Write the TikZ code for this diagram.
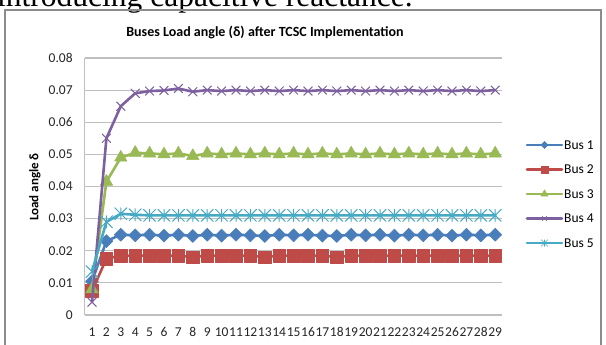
\documentclass[tikz,border=0pt]{standalone}
\usepackage{fontspec}
\setmainfont{Carlito}
\newfontfamily\bodyfont{Liberation Serif}
\usetikzlibrary{plotmarks}

\definecolor{busone}{HTML}{4A7EBB}
\definecolor{bustwo}{HTML}{BE4B48}
\definecolor{busthree}{HTML}{98B954}
\definecolor{busfour}{HTML}{7D60A0}
\definecolor{busfive}{HTML}{46AAC5}
\definecolor{gridgray}{HTML}{BFBFBF}
\definecolor{framegray}{HTML}{8C8C8C}

\pgfdeclareplotmark{busdiamond}{%
  \pgfpathmoveto{\pgfqpoint{0pt}{\pgfplotmarksize}}%
  \pgfpathlineto{\pgfqpoint{\pgfplotmarksize}{0pt}}%
  \pgfpathlineto{\pgfqpoint{0pt}{-\pgfplotmarksize}}%
  \pgfpathlineto{\pgfqpoint{-\pgfplotmarksize}{0pt}}%
  \pgfpathclose
  \pgfusepathqfillstroke}
\pgfdeclareplotmark{busstar}{%
  \pgfpathmoveto{\pgfqpoint{-\pgfplotmarksize}{-\pgfplotmarksize}}%
  \pgfpathlineto{\pgfqpoint{\pgfplotmarksize}{\pgfplotmarksize}}%
  \pgfpathmoveto{\pgfqpoint{-\pgfplotmarksize}{\pgfplotmarksize}}%
  \pgfpathlineto{\pgfqpoint{\pgfplotmarksize}{-\pgfplotmarksize}}%
  \pgfpathmoveto{\pgfqpoint{0pt}{-\pgfplotmarksize}}%
  \pgfpathlineto{\pgfqpoint{0pt}{\pgfplotmarksize}}%
  \pgfusepathqstroke}

\tikzstyle{gridline} = [draw=gridgray, line width=1.2pt]
\tikzstyle{series} = [line width=2.6pt, line join=round, line cap=round]
\tikzstyle{ticklabel} = [inner sep=0pt, font=\fontsize{13.5}{15}\selectfont, text=black!85]
\tikzstyle{legendtext} = [inner sep=0pt, anchor=west, font=\fontsize{13.5}{15}\selectfont]

\begin{document}
\begin{tikzpicture}[x=1pt, y=-1pt]

\useasboundingbox (0,0) rectangle (606,345);
\fill[white] (0,0) rectangle (606,345);

% text above the chart, cut by the page
\node[anchor=base west, inner sep=0pt, font=\bodyfont\fontsize{31.5}{31.5}\selectfont] (bodytext) at (-3,6.5) {introducing capacitive reactance.};

% chart frame and titles
\draw[framegray, line width=1.5pt] (5,10) rectangle (601,360);
\node[font=\bfseries\fontsize{14}{16}\selectfont] (title) at (265,32) {Buses Load angle (δ) after TCSC Implementation};
\node[rotate=90, font=\bfseries\fontsize{13}{15}\selectfont] (ytitle) at (35,187) {Load angle δ};

\begin{scope}[shift={(77.6,315)}, x=14.4pt, y=3212.5pt]
  \foreach \v in {1,...,8}
    \draw[gridline] (0.5,\v/100) -- (29.5,\v/100);
  \draw[gridline] (0.5,0) -- (0.5,0.08);
  \draw[gridline] (0.5,0) -- (29.5,0);
  \foreach \v/\t in {0/0, 1/0.01, 2/0.02, 3/0.03, 4/0.04, 5/0.05, 6/0.06, 7/0.07, 8/0.08}
    \node[ticklabel, anchor=east, xshift=-12pt] (yl\v) at (0.5,\v/100) {\t};
  \foreach \i in {1,...,29}
    \node[ticklabel, yshift=-17pt] (xl\i) at (\i,0) {\i};

  % Bus 1
  \draw[series, busone, mark=busdiamond, mark size=6.5pt, mark options={line width=0.5pt, fill=busone}]
    plot coordinates {(1,0.0105) (2,0.023) (3,0.025) (4,0.0248) (5,0.0250) (6,0.0247) (7,0.0250) (8,0.0246)
      (9,0.0250) (10,0.0247) (11,0.0250) (12,0.0248) (13,0.0246) (14,0.0250) (15,0.0248) (16,0.0250)
      (17,0.0247) (18,0.0246) (19,0.0250) (20,0.0248) (21,0.0250) (22,0.0247) (23,0.0250) (24,0.0248)
      (25,0.0250) (26,0.0247) (27,0.0250) (28,0.0248) (29,0.0250)};
  % Bus 2
  \draw[series, bustwo, mark=square*, mark size=6.3pt, mark options={line width=0.5pt, fill=bustwo}]
    plot coordinates {(1,0.0075) (2,0.0175) (3,0.0185) (4,0.0185) (5,0.0185) (6,0.0185) (7,0.0185) (8,0.0180)
      (9,0.0185) (10,0.0185) (11,0.0185) (12,0.0185) (13,0.0180) (14,0.0185) (15,0.0185) (16,0.0185)
      (17,0.0185) (18,0.0180) (19,0.0185) (20,0.0185) (21,0.0185) (22,0.0185) (23,0.0185) (24,0.0185)
      (25,0.0185) (26,0.0185) (27,0.0185) (28,0.0185) (29,0.0185)};
  % Bus 3
  \draw[series, busthree, mark=triangle*, mark size=7.2pt, mark options={line width=0.5pt, fill=busthree}]
    plot coordinates {(1,0.008) (2,0.0415) (3,0.049) (4,0.0505) (5,0.0503) (6,0.0500) (7,0.0503) (8,0.0495)
      (9,0.0503) (10,0.0500) (11,0.0503) (12,0.0500) (13,0.0503) (14,0.0500) (15,0.0503) (16,0.0500)
      (17,0.0503) (18,0.0500) (19,0.0503) (20,0.0500) (21,0.0503) (22,0.0500) (23,0.0503) (24,0.0500)
      (25,0.0503) (26,0.0500) (27,0.0503) (28,0.0500) (29,0.0503)};
  % Bus 4
  \draw[series, busfour, mark=x, mark size=6pt, mark options={line width=1pt}]
    plot coordinates {(1,0.004) (2,0.055) (3,0.065) (4,0.069) (5,0.0697) (6,0.0699) (7,0.0705) (8,0.0695)
      (9,0.0700) (10,0.0697) (11,0.0700) (12,0.0697) (13,0.0700) (14,0.0697) (15,0.0700) (16,0.0697)
      (17,0.0700) (18,0.0697) (19,0.0700) (20,0.0697) (21,0.0700) (22,0.0697) (23,0.0700) (24,0.0697)
      (25,0.0700) (26,0.0697) (27,0.0700) (28,0.0697) (29,0.0700)};
  % Bus 5
  \draw[series, busfive, mark=busstar, mark size=6pt, mark options={line width=1pt}]
    plot coordinates {(1,0.0135) (2,0.029) (3,0.0315) (4,0.0312) (5,0.031) (6,0.031) (7,0.031) (8,0.031)
      (9,0.031) (10,0.031) (11,0.031) (12,0.031) (13,0.031) (14,0.031) (15,0.031) (16,0.031)
      (17,0.031) (18,0.031) (19,0.031) (20,0.031) (21,0.031) (22,0.031) (23,0.031) (24,0.031)
      (25,0.031) (26,0.031) (27,0.031) (28,0.031) (29,0.031)};
\end{scope}

% legend
\foreach \n/\c/\m/\s/\y in {1/busone/busdiamond/3.5/145, 2/bustwo/square*/3.5/169.5, 3/busthree/triangle*/4/194,
                            4/busfour/x/3.5/218.5, 5/busfive/busstar/3.5/243} {
  \coordinate (ls\n) at (527,\y);
  \coordinate (le\n) at (562,\y);
  \draw[series, \c] (ls\n) -- (le\n);
  \path[\c, line width=0.6pt, fill=\c] plot[mark=\m, mark size=\s pt] coordinates {(544.5,\y)};
  \node[legendtext] (lt\n) at (564,\y) {Bus \n};
}

\end{tikzpicture}
\end{document}
